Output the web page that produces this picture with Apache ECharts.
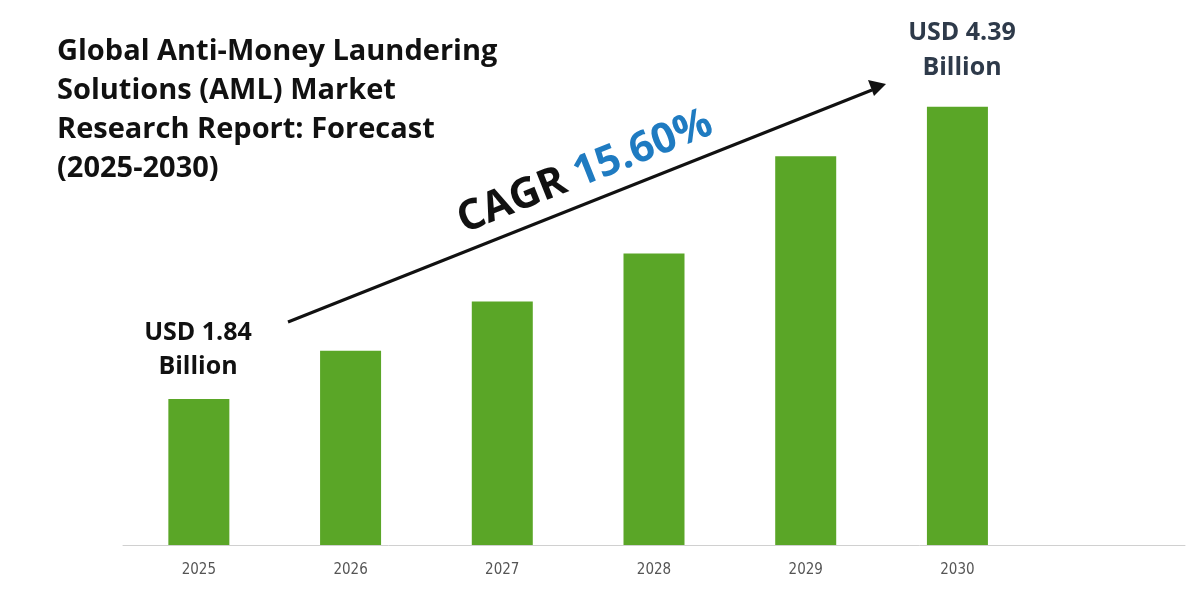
<!DOCTYPE html>
<html>
<head>
<meta charset="utf-8">
<script src="https://cdn.jsdelivr.net/npm/echarts@6/dist/echarts.min.js"></script>
<style>html,body{margin:0;padding:0;background:#fff}#chart{width:1200px;height:600px}</style>
</head>
<body>
<div id="chart"></div>
<script>
// market size, USD billion
const years = ['2025', '2026', '2027', '2028', '2029', '2030', ''];
const marketSize = [1.84, 2.26, 2.69, 3.11, 3.96, 4.39, null];
const titleLines = ['Global Anti-Money Laundering', 'Solutions (AML) Market', 'Research Report: Forecast', '(2025-2030)'];

const chart = echarts.init(document.getElementById('chart'));
const font = '"Open Sans", "Noto Sans", sans-serif';

const opt = {
    animation: false,
    grid: { left: 123, right: 15, top: 37, bottom: 55 },
    xAxis: {
        type: 'category',
        data: years,
        axisTick: { show: false },
        axisLine: { lineStyle: { color: '#d0d0d0', width: 1 } },
        axisLabel: { color: '#555', fontSize: 15, margin: 18, fontFamily: '"DejaVu Sans Condensed", "DejaVu Sans", sans-serif' }
    },
    yAxis: { type: 'value', min: 0.565, max: 5, show: false, splitLine: { show: false } },
    series: [{
        type: 'bar',
        data: marketSize,
        barWidth: 61,
        itemStyle: { color: '#5aa627' }
    }],
    graphic: [
        ...titleLines.map((t, i) => ({
            type: 'text', x: 57, y: 52 + i * 39,
            style: { text: t, font: 'bold 29px ' + font, fill: '#111', verticalAlign: 'middle' }
        })),
        { type: 'text', x: 198, y: 333, style: { text: 'USD 1.84', font: 'bold 25px ' + font, fill: '#111', align: 'center', verticalAlign: 'middle' } },
        { type: 'text', x: 198, y: 367, style: { text: 'Billion', font: 'bold 25px ' + font, fill: '#111', align: 'center', verticalAlign: 'middle' } },
        { type: 'text', x: 962, y: 33, style: { text: 'USD 4.39', font: 'bold 25px ' + font, fill: '#2e3a4a', align: 'center', verticalAlign: 'middle' } },
        { type: 'text', x: 962, y: 68, style: { text: 'Billion', font: 'bold 25px ' + font, fill: '#2e3a4a', align: 'center', verticalAlign: 'middle' } },
        { type: 'line', shape: { x1: 288, y1: 322, x2: 872, y2: 90 }, style: { stroke: '#111', lineWidth: 3 } },
        { type: 'polygon', shape: { points: [[886, 84], [868, 80], [874, 96]] }, style: { fill: '#111' } },
        {
            type: 'text', x: 585, y: 172, rotation: 0.379,
            style: {
                text: '{a|CAGR }{b|15.60%}',
                align: 'center', verticalAlign: 'middle',
                rich: {
                    a: { font: 'bold 42px ' + font, fill: '#111' },
                    b: { font: 'bold 42px ' + font, fill: '#1f7bc1' }
                }
            }
        }
    ]
};
chart.setOption(opt);
</script>
</body>
</html>
